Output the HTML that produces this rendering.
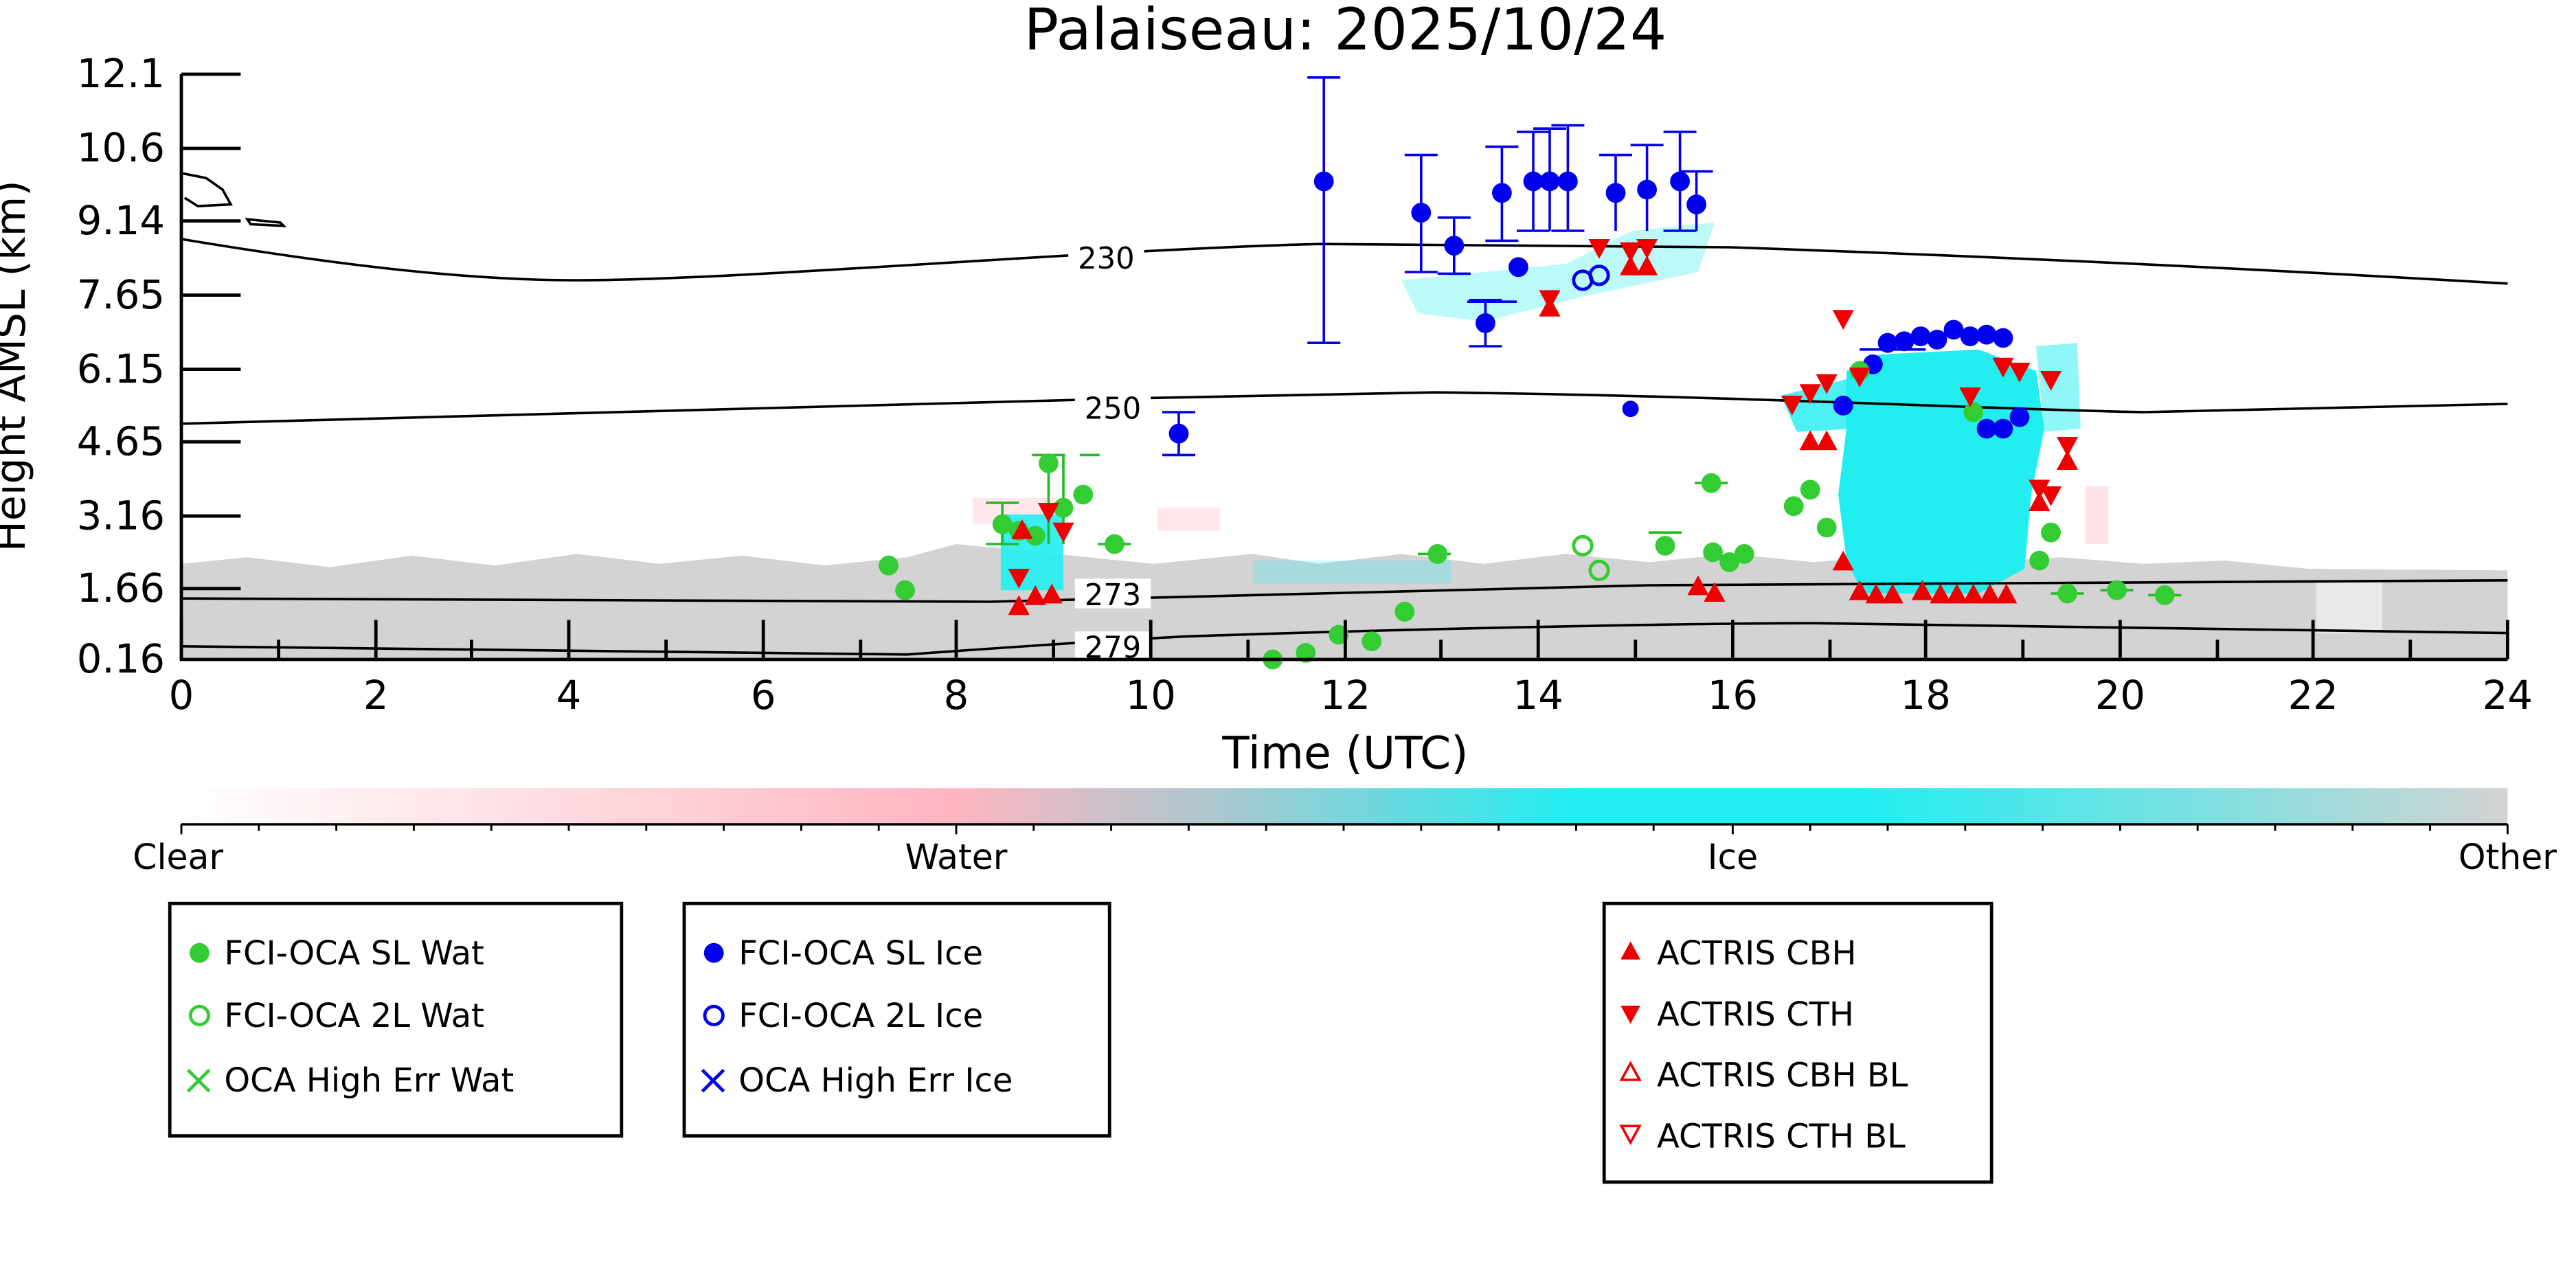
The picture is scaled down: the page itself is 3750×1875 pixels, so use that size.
<!DOCTYPE html>
<html><head><meta charset="utf-8"><style>html,body{margin:0;padding:0;background:#fff}svg{display:block}</style></head><body>
<svg xmlns="http://www.w3.org/2000/svg" width="3750" height="1875" viewBox="0 0 1562.5 781.25" font-family="DejaVu Sans, Liberation Sans, sans-serif">
<defs>
<linearGradient id="cb" x1="0" x2="1" y1="0" y2="0">
<stop offset="0" stop-color="#ffffff"/><stop offset="0.33" stop-color="#ffb6c1"/><stop offset="0.45" stop-color="#a8c8d0"/><stop offset="0.6" stop-color="#20eef0"/><stop offset="0.72" stop-color="#20eef0"/><stop offset="1" stop-color="#d3d3d3"/>
</linearGradient>
</defs>
<rect width="1562.5" height="781.25" fill="#fff"/>
<text x="816" y="30" font-size="35" text-anchor="middle">Palaiseau: 2025/10/24</text>
<!-- gray band -->
<path d="M110,400 L110,342 L150,338 L200,344 L250,337 L300,343 L350,336 L400,342 L450,337 L500,343 L550,338 L580,330 L640,336 L700,342 L760,336 L800,342 L850,336 L900,342 L950,336 L1000,341 L1050,336 L1100,341 L1150,337 L1200,341 L1250,338 L1300,342 L1350,340 L1400,345 L1521,346 L1521,400 Z" fill="#d3d3d3"/>
<rect x="1405" y="352" width="40" height="32" fill="#fff" opacity="0.5"/>
<!-- pink bits -->
<rect x="590" y="302" width="50" height="16" fill="#ffd0d8" opacity="0.5"/>
<rect x="702" y="308" width="38" height="14" fill="#ffd0d8" opacity="0.5"/>
<rect x="1265" y="295" width="14" height="35" fill="#ffd0d8" opacity="0.6"/>
<!-- cyan -->
<path d="M1120,225 L1140,215 L1200,212 L1235,225 L1240,260 L1232,300 L1228,345 L1200,360 L1130,360 L1120,340 L1115,300 L1120,260 Z" fill="#22eef0"/>
<path d="M1080,240 L1120,230 L1125,260 L1090,262 Z" fill="#22eef0" opacity="0.8"/>
<path d="M1235,210 L1260,208 L1262,260 L1240,262 Z" fill="#22eef0" opacity="0.5"/>
<rect x="607" y="312" width="38" height="46" fill="#22eef0" opacity="0.9"/>
<path d="M850,170 L950,160 L990,140 L1040,135 L1030,165 L960,180 L900,195 L860,190 Z" fill="#22eef0" opacity="0.3"/>
<rect x="760" y="340" width="120" height="14" fill="#22eef0" opacity="0.25"/>
<!-- contours -->
<g fill="none" stroke="#000" stroke-width="1.5">
<path d="M110,145 C200,160 280,170 350,170 C450,170 650,152 800,148 L1050,150 C1250,157 1400,165 1521,172"/>
<path d="M110,257 C300,250 600,243 870,238 C1050,240 1200,248 1300,250 L1521,245"/>
<path d="M110,363 L600,365 C800,360 900,357 1000,355 L1521,352"/>
<path d="M110,392 L550,397 C620,392 680,388 720,386 C900,380 1050,378 1100,378 L1521,384"/>
<path d="M110,105 L125,108 L135,115 L140,124 L120,125 L112,120"/>
<path d="M150,133 L170,135 L172,137 L152,136 Z"/>
</g>
<g font-size="18" text-anchor="middle">
<rect x="648" y="147" width="46" height="18" fill="#fff"/><text x="671" y="163">230</text>
<rect x="652" y="238" width="46" height="18" fill="#fff"/><text x="675" y="254">250</text>
<rect x="652" y="351" width="46" height="18" fill="#fff"/><text x="675" y="367">273</text>
<rect x="652" y="383" width="46" height="18" fill="#fff"/><text x="675" y="399">279</text>
</g>
<!-- error bars -->
<g stroke="#0000ee" stroke-width="1.5" fill="none">
<path d="M803,47V208M793,47h20M793,208h20"/><path d="M862,94V165M852,94h20M852,165h20"/>
<path d="M882,132V166M872,132h20M872,166h20"/><path d="M911,89V146M901,89h20M901,146h20"/>
<path d="M901,182V210M891,182h20M891,210h20"/><path d="M930,80V140M920,80h20M920,140h20"/>
<path d="M940,78V140M930,78h20"/><path d="M951,76V140M941,76h20M941,140h20"/>
<path d="M980,94V140M970,94h20"/><path d="M999,88V140M989,88h20"/><path d="M1019,80V140M1009,80h20M1009,140h20"/>
<path d="M1029,104V140M1019,104h20"/><path d="M715,250V276M705,250h20M705,276h20"/>
<path d="M890,183h30"/><path d="M1128,212h40"/>
</g>
<g stroke="#22bb22" stroke-width="1.5" fill="none">
<path d="M636,276V330M626,276h20"/><path d="M645,276V330M655,276h12"/><path d="M608,305V330M598,305h20M598,330h20"/>
<path d="M666,330h20M1274,358h20M1303,361h20M1244,360h20M1000,323h20M860,336h20M1028,293h20"/>
</g>
<!-- blue filled -->
<g fill="#0000ee">
<circle cx="803" cy="110" r="6"/><circle cx="862" cy="129" r="6"/><circle cx="882" cy="149" r="6"/><circle cx="911" cy="117" r="6"/><circle cx="921" cy="162" r="6"/><circle cx="901" cy="196" r="6"/><circle cx="930" cy="110" r="6"/><circle cx="940" cy="110" r="6"/><circle cx="951" cy="110" r="6"/><circle cx="980" cy="117" r="6"/><circle cx="999" cy="115" r="6"/><circle cx="1019" cy="110" r="6"/><circle cx="1029" cy="124" r="6"/><circle cx="715" cy="263" r="6"/><circle cx="989" cy="248" r="5"/><circle cx="1118" cy="246" r="6"/><circle cx="1136" cy="221" r="6"/><circle cx="1145" cy="208" r="6"/><circle cx="1155" cy="207" r="6"/><circle cx="1165" cy="204" r="6"/><circle cx="1175" cy="206" r="6"/><circle cx="1185" cy="200" r="6"/><circle cx="1195" cy="204" r="6"/><circle cx="1205" cy="203" r="6"/><circle cx="1215" cy="205" r="6"/><circle cx="1205" cy="260" r="6"/><circle cx="1215" cy="260" r="6"/><circle cx="1225" cy="253" r="6"/>
</g>
<g fill="none" stroke="#0000ee" stroke-width="2"><circle cx="960" cy="170" r="5.5"/><circle cx="970" cy="167" r="5.5"/></g>
<!-- green -->
<g fill="#33cc33">
<circle cx="539" cy="343" r="6"/><circle cx="549" cy="358" r="6"/><circle cx="608" cy="318" r="6"/><circle cx="618" cy="322" r="6"/><circle cx="628" cy="325" r="6"/><circle cx="636" cy="281" r="6"/><circle cx="645" cy="308" r="6"/><circle cx="657" cy="300" r="6"/><circle cx="676" cy="330" r="6"/><circle cx="772" cy="400" r="6"/><circle cx="792" cy="396" r="6"/><circle cx="812" cy="385" r="6"/><circle cx="832" cy="389" r="6"/><circle cx="852" cy="371" r="6"/><circle cx="872" cy="336" r="6"/><circle cx="1010" cy="331" r="6"/><circle cx="1039" cy="335" r="6"/><circle cx="1049" cy="341" r="6"/><circle cx="1058" cy="336" r="6"/><circle cx="1038" cy="293" r="6"/><circle cx="1088" cy="307" r="6"/><circle cx="1098" cy="297" r="6"/><circle cx="1108" cy="320" r="6"/><circle cx="1128" cy="225" r="6"/><circle cx="1197" cy="250" r="6"/><circle cx="1237" cy="340" r="6"/><circle cx="1244" cy="323" r="6"/><circle cx="1254" cy="360" r="6"/><circle cx="1284" cy="358" r="6"/><circle cx="1313" cy="361" r="6"/>
</g>
<g fill="none" stroke="#33cc33" stroke-width="2"><circle cx="960" cy="331" r="5.5"/><circle cx="970" cy="346" r="5.5"/></g>
<!-- red triangles -->
<g fill="#ee0000">
<path d="M0,-7 L6.5,5 L-6.5,5 Z" transform="translate(618,368)"/>
<path d="M0,-7 L6.5,5 L-6.5,5 Z" transform="translate(628,362)"/><path d="M0,-7 L6.5,5 L-6.5,5 Z" transform="translate(638,361)"/><path d="M0,-7 L6.5,5 L-6.5,5 Z" transform="translate(940,187)"/><path d="M0,-7 L6.5,5 L-6.5,5 Z" transform="translate(620,322)"/><path d="M0,-7 L6.5,5 L-6.5,5 Z" transform="translate(1030,356)"/><path d="M0,-7 L6.5,5 L-6.5,5 Z" transform="translate(1040,360)"/><path d="M0,-7 L6.5,5 L-6.5,5 Z" transform="translate(1118,341)"/><path d="M0,-7 L6.5,5 L-6.5,5 Z" transform="translate(1128,359)"/><path d="M0,-7 L6.5,5 L-6.5,5 Z" transform="translate(1138,361)"/><path d="M0,-7 L6.5,5 L-6.5,5 Z" transform="translate(1148,361)"/><path d="M0,-7 L6.5,5 L-6.5,5 Z" transform="translate(1166,359)"/><path d="M0,-7 L6.5,5 L-6.5,5 Z" transform="translate(1177,361)"/><path d="M0,-7 L6.5,5 L-6.5,5 Z" transform="translate(1187,361)"/><path d="M0,-7 L6.5,5 L-6.5,5 Z" transform="translate(1197,361)"/><path d="M0,-7 L6.5,5 L-6.5,5 Z" transform="translate(1207,361)"/><path d="M0,-7 L6.5,5 L-6.5,5 Z" transform="translate(1217,361)"/><path d="M0,-7 L6.5,5 L-6.5,5 Z" transform="translate(1237,305)"/><path d="M0,-7 L6.5,5 L-6.5,5 Z" transform="translate(1254,280)"/><path d="M0,-7 L6.5,5 L-6.5,5 Z" transform="translate(1098,268)"/><path d="M0,-7 L6.5,5 L-6.5,5 Z" transform="translate(1108,268)"/><path d="M0,-7 L6.5,5 L-6.5,5 Z" transform="translate(989,162)"/><path d="M0,-7 L6.5,5 L-6.5,5 Z" transform="translate(999,162)"/>
<path d="M0,7 L6.5,-5 L-6.5,-5 Z" transform="translate(618,350)"/><path d="M0,7 L6.5,-5 L-6.5,-5 Z" transform="translate(636,310)"/><path d="M0,7 L6.5,-5 L-6.5,-5 Z" transform="translate(645,322)"/><path d="M0,7 L6.5,-5 L-6.5,-5 Z" transform="translate(940,181)"/><path d="M0,7 L6.5,-5 L-6.5,-5 Z" transform="translate(970,150)"/><path d="M0,7 L6.5,-5 L-6.5,-5 Z" transform="translate(989,152)"/><path d="M0,7 L6.5,-5 L-6.5,-5 Z" transform="translate(999,150)"/><path d="M0,7 L6.5,-5 L-6.5,-5 Z" transform="translate(1087,245)"/><path d="M0,7 L6.5,-5 L-6.5,-5 Z" transform="translate(1098,238)"/><path d="M0,7 L6.5,-5 L-6.5,-5 Z" transform="translate(1108,232)"/><path d="M0,7 L6.5,-5 L-6.5,-5 Z" transform="translate(1118,193)"/><path d="M0,7 L6.5,-5 L-6.5,-5 Z" transform="translate(1128,228)"/><path d="M0,7 L6.5,-5 L-6.5,-5 Z" transform="translate(1237,296)"/><path d="M0,7 L6.5,-5 L-6.5,-5 Z" transform="translate(1244,300)"/><path d="M0,7 L6.5,-5 L-6.5,-5 Z" transform="translate(1254,270)"/><path d="M0,7 L6.5,-5 L-6.5,-5 Z" transform="translate(1195,240)"/><path d="M0,7 L6.5,-5 L-6.5,-5 Z" transform="translate(1215,222)"/><path d="M0,7 L6.5,-5 L-6.5,-5 Z" transform="translate(1225,225)"/><path d="M0,7 L6.5,-5 L-6.5,-5 Z" transform="translate(1244,230)"/>
</g>
<!-- axes -->
<g stroke="#000" stroke-width="2" fill="none">
<path d="M110,45V400H1521"/>
<path d="M110,45h36M110,90h36M110,134h36M110,179h36M110,224h36M110,268h36M110,313h36M110,357h36"/>
<path d="M110,400v-24M228,400v-24M345,400v-24M463,400v-24M580,400v-24M698,400v-24M816,400v-24M933,400v-24M1051,400v-24M1168,400v-24M1286,400v-24M1403,400v-24M1521,400v-24"/>
<path d="M169,400v-12M286,400v-12M404,400v-12M522,400v-12M639,400v-12M757,400v-12M874,400v-12M992,400v-12M1110,400v-12M1227,400v-12M1345,400v-12M1462,400v-12"/>
</g>
<g font-size="24" text-anchor="end">
<text x="100" y="53">12.1</text><text x="100" y="98">10.6</text><text x="100" y="142">9.14</text><text x="100" y="187">7.65</text><text x="100" y="232">6.15</text><text x="100" y="276">4.65</text><text x="100" y="321">3.16</text><text x="100" y="365">1.66</text><text x="100" y="408">0.16</text>
</g>
<g font-size="24" text-anchor="middle">
<text x="110" y="430">0</text><text x="228" y="430">2</text><text x="345" y="430">4</text><text x="463" y="430">6</text><text x="580" y="430">8</text><text x="698" y="430">10</text><text x="816" y="430">12</text><text x="933" y="430">14</text><text x="1051" y="430">16</text><text x="1168" y="430">18</text><text x="1286" y="430">20</text><text x="1403" y="430">22</text><text x="1521" y="430">24</text>
<text x="816" y="466" font-size="27">Time (UTC)</text>
</g>
<text transform="translate(15,222) rotate(-90)" font-size="25" text-anchor="middle">Height AMSL (km)</text>
<!-- colorbar -->
<rect x="110" y="478" width="1411" height="22" fill="url(#cb)"/>
<path d="M110,500H1521" stroke="#000" stroke-width="1.5"/>
<g stroke="#000" stroke-width="1.2">
<path d="M110,500v6M157,500v4M204,500v4M251,500v4M298,500v4M345,500v4M392,500v4M439,500v4M486,500v4M533,500v4M580,500v6M627,500v4M674,500v4M721,500v4M768,500v4M815,500v4M862,500v4M909,500v4M956,500v4M1003,500v4M1051,500v6M1098,500v4M1145,500v4M1192,500v4M1239,500v4M1286,500v4M1333,500v4M1380,500v4M1427,500v4M1474,500v4M1521,500v6"/>
</g>
<g font-size="21" text-anchor="middle">
<text x="108" y="527">Clear</text><text x="580" y="527">Water</text><text x="1051" y="527">Ice</text><text x="1521" y="527">Other</text>
</g>
<!-- legends -->
<g stroke="#000" stroke-width="2" fill="#fff">
<rect x="103" y="548" width="274" height="141"/><rect x="415" y="548" width="258" height="141"/><rect x="973" y="548" width="235" height="169"/>
</g>
<g font-size="20">
<circle cx="121" cy="578" r="6" fill="#33cc33"/><text x="136" y="585">FCI-OCA SL Wat</text>
<circle cx="121" cy="616" r="5.5" fill="none" stroke="#33cc33" stroke-width="2"/><text x="136" y="623">FCI-OCA 2L Wat</text>
<path d="M114,649l13,13M127,649l-13,13" stroke="#33cc33" stroke-width="2"/><text x="136" y="662">OCA High Err Wat</text>
<circle cx="433" cy="578" r="6" fill="#0000ee"/><text x="448" y="585">FCI-OCA SL Ice</text>
<circle cx="433" cy="616" r="5.5" fill="none" stroke="#0000ee" stroke-width="2"/><text x="448" y="623">FCI-OCA 2L Ice</text>
<path d="M426,649l13,13M439,649l-13,13" stroke="#0000ee" stroke-width="2"/><text x="448" y="662">OCA High Err Ice</text>
<path d="M989,571l6,11h-12z" fill="#ee0000"/><text x="1005" y="585">ACTRIS CBH</text>
<path d="M989,621l6,-11h-12z" fill="#ee0000"/><text x="1005" y="622">ACTRIS CTH</text>
<path d="M989,645l5.5,10h-11z" fill="none" stroke="#ee0000" stroke-width="1.5"/><text x="1005" y="659">ACTRIS CBH BL</text>
<path d="M989,693l5.5,-10h-11z" fill="none" stroke="#ee0000" stroke-width="1.5"/><text x="1005" y="696">ACTRIS CTH BL</text>
</g>
</svg>
</body></html>
